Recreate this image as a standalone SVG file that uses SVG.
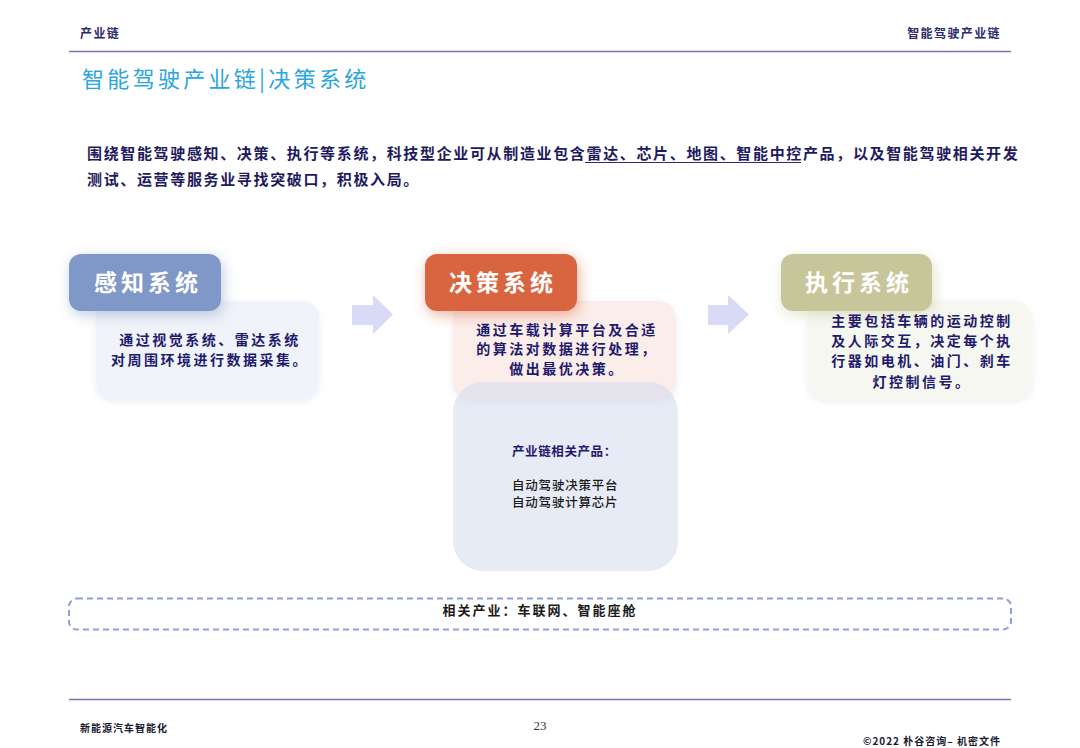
<svg xmlns="http://www.w3.org/2000/svg" width="1080" height="748" viewBox="0 0 1080 748">
<defs>
<style>
.cjk{font-family:"Noto Sans CJK SC","Noto Sans CJK TC",sans-serif;}
.hdr{font-size:12px;font-weight:700;fill:#2b2a6b;letter-spacing:1.4px;}
.title{font-size:22px;font-weight:400;fill:#2ba6de;letter-spacing:3.3px;}
.para{font-size:15px;font-weight:700;fill:#1e1a5e;letter-spacing:1.65px;}
.head{font-size:23px;font-weight:700;fill:#ffffff;letter-spacing:4px;text-anchor:middle;}
.body{font-size:14px;font-weight:700;fill:#1e1a6e;letter-spacing:2.5px;text-anchor:middle;}
.prod{font-size:12.5px;font-weight:500;fill:#1a1a1a;letter-spacing:0.8px;}
.foot{font-size:10px;font-weight:700;fill:#1a1a2e;letter-spacing:1px;}
.rule{stroke:#7a78b0;stroke-width:1.5;}
.arrow{fill:#d9d9f8;}
</style>
<filter id="glow" x="-30%" y="-40%" width="160%" height="190%">
<feGaussianBlur in="SourceGraphic" stdDeviation="7" result="b"/>
<feOffset in="b" dx="2" dy="4" result="o"/>
<feComponentTransfer in="o" result="s"><feFuncA type="linear" slope="0.5"/></feComponentTransfer>
<feMerge><feMergeNode in="s"/><feMergeNode in="SourceGraphic"/></feMerge>
</filter>
<filter id="soft" x="-10%" y="-10%" width="120%" height="125%">
<feDropShadow dx="0" dy="2" stdDeviation="3" flood-color="#b0b8d0" flood-opacity="0.25"/>
</filter>
</defs>
<rect width="1080" height="748" fill="#ffffff"/>

<g id="header">
<text class="cjk hdr" x="80" y="38">产业链</text>
<text class="cjk hdr" x="1001" y="38" text-anchor="end">智能驾驶产业链</text>
<line class="rule" x1="69" y1="51.5" x2="1011" y2="51.5"/>
</g>

<g id="title">
<text class="cjk title" x="82" y="87">智能驾驶产业链|决策系统</text>
</g>

<g id="intro">
<text class="cjk para" x="87" y="159">围绕智能驾驶感知、决策、执行等系统，科技型企业可从制造业包含雷达、芯片、地图、智能中控产品，以及智能驾驶相关开发</text>
<text class="cjk para" x="87" y="185">测试、运营等服务业寻找突破口，积极入局。</text>
<line x1="585" y1="162.5" x2="801" y2="162.5" stroke="#2b2a7b" stroke-width="1.2"/>
</g>

<g id="node-perception">
<rect x="96" y="301" width="223" height="99" rx="18" fill="#f0f3f9" filter="url(#soft)"/>
<rect x="69" y="254" width="152" height="57" rx="12" fill="#7f98c8" filter="url(#glow)"/>
<text class="cjk head" x="148" y="291">感知系统</text>
<text class="cjk body" x="210" y="345">通过视觉系统、雷达系统</text>
<text class="cjk body" x="210" y="365">对周围环境进行数据采集。</text>
</g>

<g id="node-decision">
<rect x="453" y="301" width="223" height="99" rx="18" fill="#fbeeea" filter="url(#soft)"/>
<rect x="453" y="382" width="225" height="189" rx="30" fill="#c8d2ec" fill-opacity="0.45"/>
<rect x="425" y="254" width="152" height="57" rx="12" fill="#d96540" filter="url(#glow)"/>
<text class="cjk head" x="503" y="291">决策系统</text>
<text class="cjk body" x="567" y="335">通过车载计算平台及合适</text>
<text class="cjk body" x="567" y="354">的算法对数据进行处理，</text>
<text class="cjk body" x="567" y="374">做出最优决策。</text>
<text class="cjk prod" x="512" y="456" style="fill:#1e1a6e;font-weight:700;letter-spacing:0.6px">产业链相关产品：</text>
<text class="cjk prod" x="512" y="490">自动驾驶决策平台</text>
<text class="cjk prod" x="512" y="507">自动驾驶计算芯片</text>
</g>

<g id="node-execution">
<rect x="808" y="301" width="224" height="99" rx="18" fill="#f6f7f0" filter="url(#soft)"/>
<rect x="781" y="254" width="151" height="57" rx="12" fill="#c6c69a" filter="url(#glow)"/>
<text class="cjk head" x="859" y="291">执行系统</text>
<text class="cjk body" x="922" y="326">主要包括车辆的运动控制</text>
<text class="cjk body" x="922" y="346">及人际交互，决定每个执</text>
<text class="cjk body" x="922" y="366">行器如电机、油门、刹车</text>
<text class="cjk body" x="922" y="387">灯控制信号。</text>
</g>

<g id="connectors">
<polygon class="arrow" points="352,305 373,305 373,295 393,314.5 373,334 373,325 352,325"/>
<polygon class="arrow" points="708,305 728,305 728,295 749,314.5 728,334 728,325 708,325"/>
</g>

<g id="related">
<rect x="69" y="598.5" width="942" height="31" rx="8" fill="none" stroke="#8fa0d8" stroke-width="2" stroke-dasharray="6 4"/>
<text class="cjk" x="540" y="615" text-anchor="middle" style="font-size:13px;font-weight:700;fill:#1a1a1a;letter-spacing:2px">相关产业：车联网、智能座舱</text>
</g>

<g id="footer">
<line class="rule" x1="69" y1="699.5" x2="1011" y2="699.5"/>
<text class="cjk foot" x="80" y="732">新能源汽车智能化</text>
<text x="540" y="730" text-anchor="middle" style="font-family:'Liberation Serif',serif;font-size:13px;fill:#333">23</text>
<text class="cjk foot" x="1001" y="745" text-anchor="end">©2022 朴谷咨询– 机密文件</text>
</g>
</svg>
